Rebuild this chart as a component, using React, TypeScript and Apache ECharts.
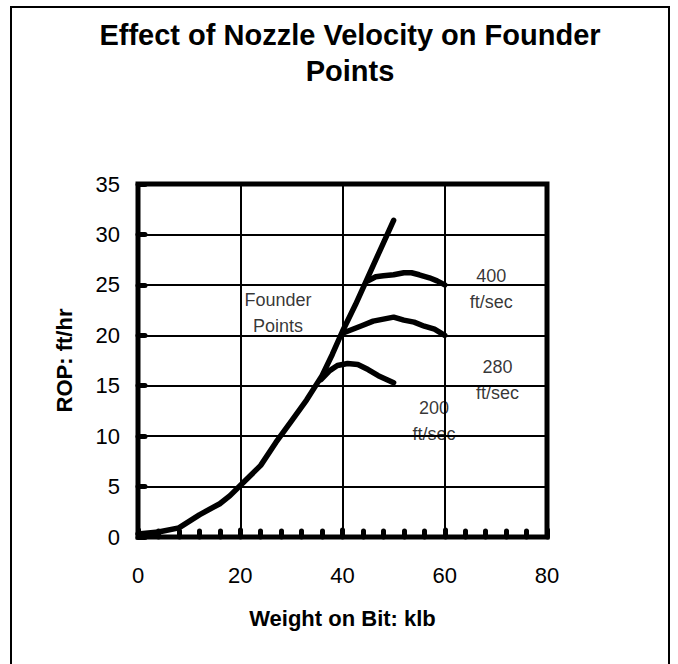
import React, { useEffect, useRef } from "react";
import * as echarts from "echarts";

const FONT = '"Liberation Sans", Arial, sans-serif';

const titleText = "Effect of Nozzle Velocity on Founder\nPoints";
const xAxisName = "Weight on Bit: klb";
const yAxisName = "ROP: ft/hr";

const founderPoints: number[][] = [
  [0, 0.3], [4, 0.5], [8, 0.9], [12, 2.2], [16, 3.3], [18, 4.1], [20, 5.1],
  [24, 7.1], [27, 9.4], [30, 11.5], [33, 13.6], [36, 16.0], [38, 18.1],
  [40, 20.4], [42.5, 23.0], [45, 25.8], [47.5, 28.6], [50, 31.4],
];
const v200: number[][] = [
  [35.8, 15.6], [37.5, 16.5], [39, 17.0], [41, 17.2], [43, 17.1],
  [45, 16.6], [47, 16.0], [50, 15.3],
];
const v280: number[][] = [
  [40, 20.2], [42, 20.6], [44, 21.0], [46, 21.4], [48, 21.6], [50, 21.8],
  [52, 21.5], [54, 21.3], [56, 20.9], [58, 20.6], [60, 20.0],
];
const v400: number[][] = [
  [45, 25.4], [46.5, 25.8], [48, 25.9], [50, 26.0], [52, 26.2], [53.5, 26.2],
  [55, 26.0], [57, 25.7], [58.5, 25.4], [60, 25.0],
];
const annotationText = ["Founder\nPoints", "400\nft/sec", "280\nft/sec", "200\nft/sec"];
const annotationX = [27.4, 69.1, 70.3, 57.9];
const annotationY = [22.2, 24.56, 15.6, 11.47];

export default function App() {
  const ref = useRef<HTMLDivElement>(null);
  useEffect(() => {
    if (!ref.current) return;
    const chart = echarts.init(ref.current, undefined, { renderer: "svg" });
    const lineStyle = { color: "#000", width: 5.5, cap: "round", join: "round" };
    const mk = (name: string, data: number[][]) => ({
      type: "line",
      name,
      data,
      showSymbol: false,
      symbol: "none",
      smooth: false,
      lineStyle,
      z: 3,
      silent: true,
    });
    chart.setOption({
      animation: false,
      backgroundColor: "#fff",
      graphic: [
        {
          type: "rect",
          shape: { x: 11, y: 7, width: 658, height: 700 },
          style: { fill: "none", stroke: "#000", lineWidth: 2 },
          silent: true,
        },
        {
          type: "text",
          x: 350,
          y: 17,
          style: {
            text: titleText,
            fontSize: 29,
            fontWeight: "bold",
            fontFamily: FONT,
            fill: "#000",
            textAlign: "center",
            textVerticalAlign: "top",
            align: "center",
            verticalAlign: "top",
            lineHeight: 36,
          },
        },
      ],
      grid: {
        left: 138,
        top: 184,
        right: 131,
        bottom: 127,
        show: true,
        borderColor: "#000",
        borderWidth: 5,
        backgroundColor: "transparent",
      },
      xAxis: {
        type: "value",
        min: 0,
        max: 80,
        interval: 20,
        name: xAxisName,
        nameLocation: "middle",
        nameGap: 81,
        nameTextStyle: {
          fontSize: 22,
          fontWeight: "bold",
          fontFamily: FONT,
          color: "#000",
          verticalAlign: "middle",
        },
        axisLine: { show: false },
        axisTick: {
          show: true,
          inside: true,
          length: 7,
          lineStyle: { color: "#000", width: 5, cap: "round" },
        },
        minorTick: {
          show: true,
          splitNumber: 5,
          length: 6,
          lineStyle: { color: "#000", width: 5, cap: "round" },
        },
        axisLabel: {
          fontSize: 22,
          fontFamily: FONT,
          color: "#000",
          margin: 27,
        },
        splitLine: { show: true, lineStyle: { color: "#000", width: 2 } },
      },
      yAxis: {
        type: "value",
        min: 0,
        max: 35,
        interval: 5,
        name: yAxisName,
        nameLocation: "middle",
        nameGap: 74,
        nameRotate: 90,
        nameTextStyle: {
          fontSize: 22,
          fontWeight: "bold",
          fontFamily: FONT,
          color: "#000",
          verticalAlign: "middle",
        },
        axisLine: { show: false },
        axisTick: {
          show: true,
          inside: true,
          length: 7,
          lineStyle: { color: "#000", width: 5, cap: "round" },
        },
        axisLabel: {
          fontSize: 22,
          fontFamily: FONT,
          color: "#000",
          margin: 18,
        },
        splitLine: { show: true, lineStyle: { color: "#000", width: 2 } },
      },
      series: [
        mk("Founder Points", founderPoints),
        mk("200 ft/sec", v200),
        mk("280 ft/sec", v280),
        mk("400 ft/sec", v400),
        {
          type: "scatter",
          symbolSize: 0,
          silent: true,
          z: 4,
          data: annotationText.map((t, i) => ({
            value: [annotationX[i], annotationY[i]],
            label: { formatter: t },
          })),
          label: {
            show: true,
            position: "inside",
            fontSize: 18,
            fontFamily: FONT,
            color: "#000",
            lineHeight: 26,
            align: "center",
            verticalAlign: "middle",
          },
          labelLayout: { hideOverlap: false },
        },
      ],
    });
    return () => chart.dispose();
  }, []);
  return (
    <div
      ref={ref}
      style={{ position: "fixed", left: 0, top: 0, width: 678, height: 664 }}
    />
  );
}
